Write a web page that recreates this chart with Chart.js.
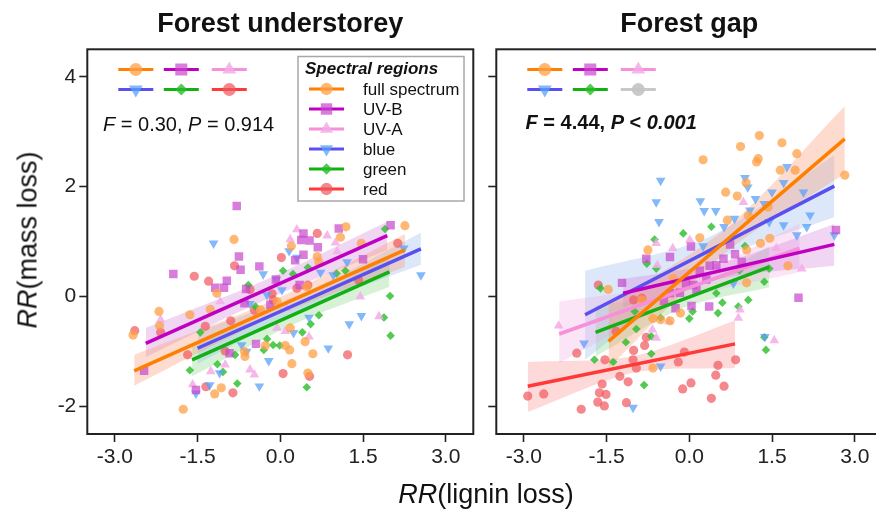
<!DOCTYPE html>
<html>
<head>
<meta charset="utf-8">
<script src="https://cdn.jsdelivr.net/npm/chart.js@4.4.1/dist/chart.umd.min.js"></script>
<style>
  html, body { margin:0; padding:0; background:#fff; }
  body { width:876px; height:517px; overflow:hidden; position:relative; font-family:'Liberation Sans', Arial, sans-serif; }
  canvas { position:absolute; top:0; }
  #cLeft { left:0; }
  #cRight { left:409px; }
  .axt { position:absolute; font-size:27px; color:#111; white-space:nowrap; line-height:1; }
  #xt { left:336px; width:300px; top:481px; text-align:center; }
  #yt { left:28px; top:240px; transform:translate(-50%,-50%) rotate(-90deg); }
</style>
</head>
<body>
<canvas id="cLeft" width="480" height="517"></canvas>
<canvas id="cRight" width="480" height="517"></canvas>
<div class="axt" id="xt"><i>RR</i>(lignin loss)</div>
<div class="axt" id="yt"><i>RR</i>(mass loss)</div>
<script>
// ---------- categories & ticks ----------
const REGIONS = ['full spectrum', 'UV-B', 'UV-A', 'blue', 'green', 'red'];
const PANELS = ['Forest understorey', 'Forest gap'];
const X_TICKS = [-3, -1.5, 0, 1.5, 3];
const X_TICK_LABELS = ['-3.0', '-1.5', '0.0', '1.5', '3.0'];
const Y_TICKS = [-2, 0, 2, 4];
const Y_TICK_LABELS = ['-2', '0', '2', '4'];
const STATS_LEFT = ['0.30', '0.914'];
const STATS_RIGHT = ['4.44', '0.001'];

// ---------- Forest understorey: points [RR lignin, RR mass] ----------
const U_full = [[-2.67,-0.70],[-2.20,-0.27],[-2.19,-0.53],[-1.64,-0.33],[-0.84,1.04],[-1.15,0.06],[0.20,0.92],[0.67,0.73],[0.70,0.63],[1.09,1.08],[1.19,1.27],[2.26,1.29],[1.47,0.97],[-0.27,-0.89],[0.09,-0.89],[0.17,-0.97],[0.45,-0.82],[0.59,-1.04],[0.21,-1.22],[0.50,-1.39],[-0.65,-1.00],[-0.64,-1.09],[-1.07,-1.66],[-1.19,-1.77],[-1.76,-2.05],[0.18,-0.57],[0.48,0.18],[-0.36,-0.24],[-1.27,-0.23],[-0.06,-0.09]];
const U_uvb = [[-0.79,1.65],[-1.94,0.41],[-0.75,0.73],[-0.72,0.49],[-0.38,0.55],[-0.97,0.29],[-1.18,0.16],[-1.02,0.16],[-0.62,0.14],[0.42,1.15],[0.38,1.03],[0.53,1.02],[0.68,0.90],[0.27,0.66],[0.42,0.76],[1.06,1.24],[2.00,1.30],[1.50,0.68],[0.35,0.21],[-0.08,0.31],[-0.18,-0.15],[-0.65,-0.12],[-0.44,-0.86],[-0.92,-1.03],[-1.53,-1.70],[-2.47,-1.35]];
const U_uva = [[0.30,1.22],[0.18,1.04],[0.85,1.11],[1.00,0.98],[-1.09,-0.09],[-2.17,-0.42],[-0.06,-0.57],[0.09,-0.63],[0.52,-0.73],[1.45,0.00],[1.79,-0.36],[-1.00,-1.24],[-1.26,-1.36],[-0.55,-1.33],[-0.47,-1.42],[-1.59,-1.60],[-0.06,0.24],[0.12,-0.21],[1.03,0.82]];
const U_blue = [[-1.21,0.97],[-0.31,0.41],[0.16,0.83],[0.30,0.71],[1.21,0.63],[0.73,0.44],[0.96,0.39],[-0.07,0.31],[-0.24,0.03],[-0.55,-0.13],[0.52,-0.38],[1.47,-0.35],[1.25,-0.50],[0.87,-0.94],[0.24,-0.66],[-0.21,-1.17],[-0.70,-0.88],[-1.10,-1.39],[-1.28,-1.61],[-0.38,-1.63],[-1.53,-1.76],[2.55,0.39],[2.24,0.88],[-0.61,-1.00],[0.03,0.12]];
const U_green = [[1.90,1.23],[0.05,0.47],[0.23,0.41],[0.50,0.53],[1.02,0.42],[1.18,0.47],[0.70,-0.34],[0.55,-0.50],[0.40,-0.65],[1.99,0.01],[1.88,-0.38],[2.00,-0.71],[-0.24,-0.77],[-0.13,-0.88],[-0.01,-0.89],[-0.30,-0.97],[-1.45,-0.65],[-1.14,-1.23],[-1.04,-1.37],[-1.64,-1.34],[-0.78,-1.58],[0.48,-1.65],[-0.82,-1.06],[-0.58,0.21],[-0.45,-0.18]];
const U_red = [[-2.64,-0.62],[-1.56,0.37],[-1.30,0.28],[-0.83,0.56],[0.02,0.71],[0.67,1.15],[-0.55,0.13],[-0.15,0.05],[0.30,0.15],[0.50,0.21],[-0.47,-0.25],[-0.90,-0.44],[-1.36,-0.54],[-1.68,-1.06],[1.22,-1.06],[0.05,-1.40],[0.53,-1.45],[-0.86,-1.75],[-1.35,-1.64],[-2.17,-0.65],[-1.00,-0.99],[2.13,0.97],[1.42,0.30],[-0.13,-0.06]];

// regression lines (end points) and confidence bands [x, lower, upper]
const U_full_line = [[-2.65,-1.35],[2.26,0.85]];
const U_uvb_line = [[-2.44,-0.85],[1.94,1.11]];
const U_blue_line = [[-1.50,-0.94],[2.55,0.87]];
const U_green_line = [[-1.60,-1.15],[1.98,0.45]];
const U_full_band = [[-2.65,-1.62,-1.06],[-0.20,-0.40,-0.10],[2.26,0.54,1.14]];
const U_uvb_band = [[-2.44,-1.10,-0.57],[-0.25,-0.05,0.31],[1.94,0.85,1.36]];
const U_blue_band = [[-1.50,-1.22,-0.64],[0.50,-0.20,0.10],[2.55,0.58,1.16]];
const U_green_band = [[-1.60,-1.45,-0.85],[0.20,-0.52,-0.18],[1.98,0.18,0.72]];

// ---------- Forest gap ----------
const R_full = [[0.25,2.49],[0.93,2.73],[1.27,2.93],[1.68,2.80],[1.95,2.60],[1.25,2.51],[1.22,2.45],[1.65,2.30],[1.92,2.30],[2.82,2.21],[1.03,2.07],[0.66,1.90],[0.87,1.83],[1.43,1.63],[0.69,1.39],[1.07,1.47],[-0.75,0.85],[0.19,1.07],[1.29,0.97],[1.46,1.06],[1.04,0.25],[1.04,0.85],[1.79,0.56],[-1.47,0.13],[-0.86,-0.06],[-0.66,-0.40],[-0.52,-0.42],[-0.16,-0.30],[-0.35,-0.44],[-0.66,-1.30],[-0.29,0.33]];
const R_uvb = [[-0.78,0.69],[-0.35,0.72],[0.03,0.91],[-1.22,0.25],[2.66,1.21],[1.98,-0.02],[0.36,-0.18],[0.04,-0.17],[-0.25,-0.21],[-0.46,-0.08],[-0.35,0.06],[-0.06,0.24],[0.07,0.21],[0.19,0.47],[0.37,0.56],[0.49,0.57],[0.62,0.69],[0.83,0.77],[0.95,0.63],[0.31,0.31],[0.13,0.13],[-0.17,0.07],[0.74,0.95]];
const R_uva = [[-2.37,-0.53],[-0.60,0.97],[-0.30,0.88],[0.01,1.03],[-0.60,-0.75],[-0.67,-0.60],[-0.37,-0.45],[0.92,-0.24],[0.89,-0.39],[1.54,-0.80],[2.04,0.51],[1.58,0.88],[0.98,1.72],[-0.58,0.57]];
const R_blue = [[-0.52,2.11],[-0.60,1.72],[-0.55,1.36],[0.20,1.74],[0.27,1.56],[0.48,1.56],[1.01,2.16],[1.06,1.99],[1.77,2.36],[1.71,2.07],[2.07,1.90],[1.50,1.90],[1.20,1.78],[1.36,1.69],[2.19,1.48],[1.71,1.30],[2.13,1.27],[0.82,1.42],[1.10,1.57],[1.45,1.36],[0.63,1.27],[0.25,0.92],[0.80,0.24],[2.63,1.12],[1.95,1.12],[-1.91,-0.85],[1.37,-0.73],[-1.02,-2.02],[-0.52,-1.27]];
const R_green = [[-0.11,1.15],[0.40,1.27],[1.01,0.92],[-0.63,1.04],[-0.77,0.60],[-1.61,0.15],[-0.60,0.51],[0.91,0.48],[1.36,0.27],[1.07,-0.06],[0.60,-0.11],[0.49,0.06],[0.89,-0.18],[0.52,-0.30],[0.06,-0.27],[0.00,-0.40],[-0.99,-0.27],[-0.96,-0.59],[-1.15,-0.83],[-0.69,-0.72],[-0.69,-1.04],[-1.72,-1.15],[-1.38,-1.19],[-0.82,-1.61],[1.39,-0.97],[1.36,-0.74],[1.45,0.51],[-0.52,-0.39]];
const R_red = [[-2.93,-1.81],[-2.64,-1.77],[-2.04,-1.03],[-1.65,0.21],[-1.96,-2.05],[-1.53,-1.15],[-1.58,-1.59],[-1.63,-1.75],[-1.51,-1.78],[-1.66,-1.92],[-1.54,-1.99],[-1.14,-1.93],[-1.26,-1.45],[-1.11,-1.55],[-1.02,-1.15],[-0.96,-1.30],[-1.01,-0.98],[-0.81,-0.89],[-0.78,-0.74],[-1.33,-0.63],[-1.01,-0.06],[-0.86,-0.03],[-0.20,-1.19],[-0.09,-1.01],[-0.12,-1.68],[0.03,-1.57],[0.40,-1.85],[0.52,-1.25],[0.48,-1.43],[0.63,-1.63],[0.84,-1.15]];

const R_full_line = [[-1.465,-0.815],[2.82,2.87]];
const R_uvb_line = [[-1.20,0.06],[2.63,0.95]];
const R_uva_line = [[-2.36,-0.68],[2.00,0.88]];
const R_blue_line = [[-1.89,-0.33],[2.63,2.01]];
const R_green_line = [[-1.70,-0.65],[1.45,0.54]];
const R_red_line = [[-2.93,-1.63],[0.83,-0.86]];
const R_full_band = [[-1.465,-1.30,-0.15],[0.70,0.83,1.27],[2.82,2.24,3.47]];
const R_uvb_band = [[-1.20,-0.20,0.32],[0.70,0.35,0.65],[2.63,0.56,1.32]];
const R_uva_band = [[-2.36,-1.21,-0.09],[-0.20,-0.09,0.27],[2.00,0.45,1.33]];
const R_blue_band = [[-1.89,-1.15,0.47],[0.37,0.59,1.09],[2.63,1.45,2.57]];
const R_green_band = [[-1.70,-1.09,-0.17],[-0.10,-0.20,0.10],[1.45,0.17,0.91]];
const R_red_band = [[-2.93,-2.10,-1.19],[-1.00,-1.38,-1.08],[0.83,-1.30,-0.435]];

// ---------- styles ----------
const FONT = "'Liberation Sans', Arial, sans-serif";
const STYLE = [
  {line:'#ff7f00', fill:'rgba(255,160,70,0.75)',  band:'rgba(250,145,105,0.33)', shape:'circle',   rot:0,   r:4.6, lr:6.5},
  {line:'#c000c0', fill:'rgba(200,70,205,0.70)',  band:'rgba(205,120,215,0.30)', shape:'rect',     rot:0,   r:6.0, lr:8.5},
  {line:'#f78fda', fill:'rgba(245,172,230,0.85)', band:'rgba(240,165,225,0.30)', shape:'triangle', rot:0,   r:5.6, lr:8.0},
  {line:'#5a4ff0', fill:'rgba(90,160,250,0.75)',  band:'rgba(140,180,240,0.30)', shape:'triangle', rot:180, r:5.6, lr:8.0},
  {line:'#12b012', fill:'rgba(40,190,40,0.80)',   band:'rgba(120,210,120,0.30)', shape:'rectRot',  rot:0,   r:4.3, lr:6.0},
  {line:'#ff3838', fill:'rgba(240,90,95,0.72)',   band:'rgba(250,120,120,0.28)', shape:'circle',   rot:0,   r:4.6, lr:6.5}
];

function xy(arr) { return arr.map(p => ({x:p[0], y:p[1]})); }

function buildDatasets(points, lines, bands) {
  const ds = [];
  bands.forEach((b, i) => {
    if (!b) return;
    const st = STYLE[i];
    ds.push({type:'line', data:b.map(p=>({x:p[0], y:p[2]})), borderWidth:0, pointRadius:0, tension:0.3,
             fill:'+1', backgroundColor:st.band, order:3});
    ds.push({type:'line', data:b.map(p=>({x:p[0], y:p[1]})), borderWidth:0, pointRadius:0, tension:0.3,
             fill:false, backgroundColor:st.band, order:3});
  });
  points.forEach((p, i) => {
    const st = STYLE[i];
    ds.push({type:'scatter', label:REGIONS[i], data:xy(p), pointStyle:st.shape, pointRotation:st.rot,
             pointRadius:st.r, pointBackgroundColor:st.fill, pointBorderWidth:0, order:2});
  });
  lines.forEach((l, i) => {
    if (!l) return;
    const st = STYLE[i];
    ds.push({type:'line', data:xy(l), borderColor:st.line, borderWidth:3.5, pointRadius:0, fill:false,
             tension:0, order:1});
  });
  return ds;
}

function marker(ctx, shape, rot, r, x, y, color) {
  ctx.fillStyle = color;
  Chart.helpers.drawPoint(ctx, {pointStyle:shape, rotation:rot, radius:r, borderWidth:0}, x, y);
}

function richText(ctx, parts, x, y) {
  let cx = x;
  parts.forEach(([txt, font]) => { ctx.font = font; ctx.fillText(txt, cx, y); cx += ctx.measureText(txt).width; });
}

const decor = {
  id: 'decor',
  afterDraw(chart, args, o) {
    const {ctx, chartArea:a} = chart;
    ctx.save();
    ctx.strokeStyle = '#222'; ctx.lineWidth = 2;
    ctx.strokeRect(a.left, a.top, a.right - a.left, a.bottom - a.top);
    // panel title
    ctx.fillStyle = '#111'; ctx.textAlign = 'center'; ctx.textBaseline = 'alphabetic';
    ctx.font = `bold 27px ${FONT}`;
    ctx.fillText(o.title, (a.left + a.right) / 2, 32);
    // mini legend (two rows of three)
    const cols = [48.5, 94, 142], rows = [69.5, 89.5];
    for (let i = 0; i < 6; i++) {
      const st = STYLE[i];
      const cx = a.left + cols[i % 3], cy = rows[Math.floor(i / 3)];
      const lc = (o.grey === i) ? '#c8c8c8' : st.line;
      const mc = (o.grey === i) ? 'rgba(195,195,195,0.9)' : st.fill;
      ctx.strokeStyle = lc; ctx.lineWidth = 3;
      ctx.beginPath(); ctx.moveTo(cx - 17.5, cy); ctx.lineTo(cx + 17.5, cy); ctx.stroke();
      marker(ctx, st.shape, st.rot, st.lr, cx, cy, mc);
    }
    // statistics text
    ctx.textAlign = 'left'; ctx.fillStyle = '#111';
    const w = o.bold ? 'bold ' : '';
    richText(ctx, [
      ['F', `italic ${w}20px ${FONT}`], [` = ${o.stats[0]}, `, `${w}20px ${FONT}`],
      ['P', `italic ${w}20px ${FONT}`], [o.bold ? ' < ' : ' = ', `${w}20px ${FONT}`],
      [o.stats[1], `${o.bold ? 'italic ' : ''}${w}20px ${FONT}`]
    ], a.left + o.statX, o.statY);
    // spectral regions legend
    if (o.legend) {
      const bx = a.left + 210.7, by = 56.5;
      ctx.strokeStyle = '#a8a8a8'; ctx.lineWidth = 1.5;
      ctx.strokeRect(bx, by, 166, 144.5);
      ctx.fillStyle = '#111';
      ctx.font = `italic bold 17px ${FONT}`;
      ctx.fillText('Spectral regions', bx + 7, 73.5);
      ctx.font = `17px ${FONT}`;
      REGIONS.forEach((name, i) => {
        const st = STYLE[i], cy = 89 + 20 * i, cx = bx + 28.5;
        ctx.strokeStyle = st.line; ctx.lineWidth = 3;
        ctx.beginPath(); ctx.moveTo(cx - 17.5, cy); ctx.lineTo(cx + 17.5, cy); ctx.stroke();
        marker(ctx, st.shape, st.rot, st.lr * 0.95, cx, cy, st.fill);
        ctx.fillStyle = '#111';
        ctx.fillText(name, bx + 65, cy + 6);
      });
    }
    ctx.restore();
  }
};

function makeChart(id, datasets, showYLabels, decorOpts) {
  return new Chart(document.getElementById(id), {
    type: 'scatter',
    data: {datasets},
    plugins: [decor],
    options: {
      responsive: false, animation: false, devicePixelRatio: 1, events: [],
      layout: {padding: {left: 0, right: 6.7, top: 49.3, bottom: 0}},
      plugins: {legend: {display: false}, tooltip: {enabled: false}, decor: decorOpts},
      scales: {
        x: {
          type: 'linear', min: -3.5, max: 3.5,
          afterBuildTicks: s => { s.ticks = X_TICKS.map(v => ({value: v})); },
          afterFit: s => { s.height = 83; },
          ticks: {callback: v => X_TICK_LABELS[X_TICKS.indexOf(v)], autoSkip: false, maxRotation: 0,
                  font: {size: 21, family: FONT}, color: '#222', padding: 3},
          grid: {display: true, drawOnChartArea: false, drawTicks: true, tickLength: 8, tickWidth: 1.6, tickColor: '#222'},
          border: {display: false}
        },
        y: {
          type: 'linear', min: -2.5, max: 4.5,
          afterBuildTicks: s => { s.ticks = Y_TICKS.map(v => ({value: v})); },
          afterFit: s => { s.width = 87.3; },
          ticks: {callback: v => showYLabels ? Y_TICK_LABELS[Y_TICKS.indexOf(v)] : '', autoSkip: false,
                  font: {size: 21, family: FONT}, color: '#222', padding: 3},
          grid: {display: true, drawOnChartArea: false, drawTicks: true, tickLength: 8, tickWidth: 1.6, tickColor: '#222'},
          border: {display: false}
        }
      }
    }
  });
}

makeChart('cLeft',
  buildDatasets([U_full, U_uvb, U_uva, U_blue, U_green, U_red],
                [U_full_line, U_uvb_line, null, U_blue_line, U_green_line, null],
                [U_full_band, U_uvb_band, null, U_blue_band, U_green_band, null]),
  true,
  {title: PANELS[0], stats: STATS_LEFT, bold: false, statX: 15.7, statY: 130.5, legend: true, grey: -1});

makeChart('cRight',
  buildDatasets([R_full, R_uvb, R_uva, R_blue, R_green, R_red],
                [R_full_line, R_uvb_line, R_uva_line, R_blue_line, R_green_line, R_red_line],
                [R_full_band, R_uvb_band, R_uva_band, R_blue_band, R_green_band, R_red_band]),
  false,
  {title: PANELS[1], stats: STATS_RIGHT, bold: true, statX: 29.3, statY: 128.5, legend: false, grey: 5});
</script>
</body>
</html>
